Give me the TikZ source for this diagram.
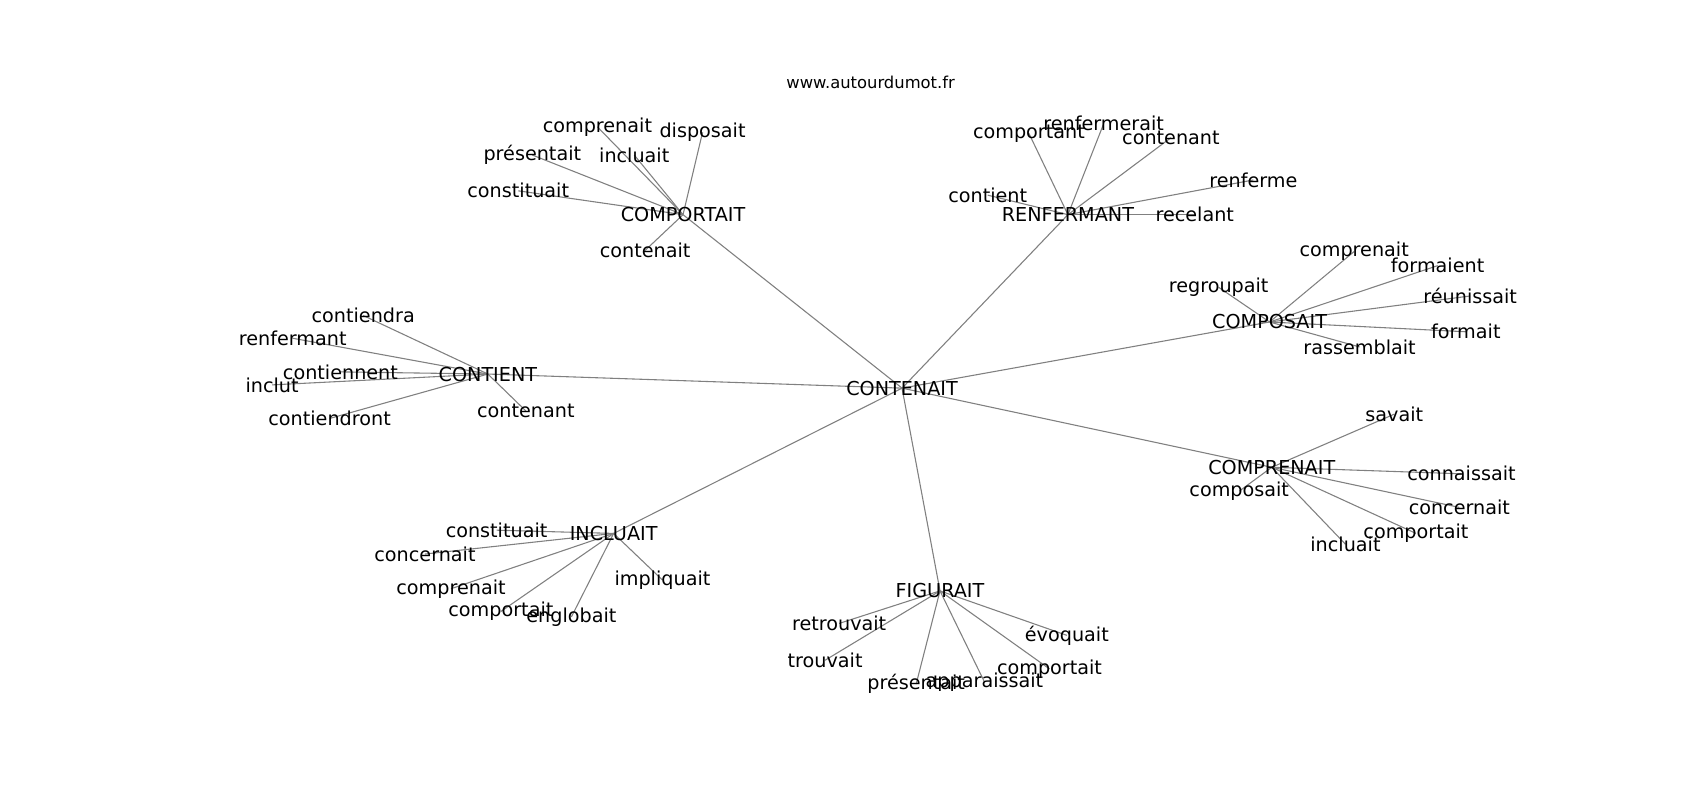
\documentclass[tikz,border=0pt]{standalone}
\usepackage{fontspec}
\setmainfont{DejaVu Sans}
\usetikzlibrary{backgrounds}
\tikzset{
  word/.style={inner sep=0pt, font=\fontsize{8.85}{10}\selectfont},
  edge/.style={draw=black!50, line width=0.5pt},
}
\begin{document}
\begin{tikzpicture}[x=0.5pt,y=-0.5pt]
      \useasboundingbox (0,0) rectangle (1568,738);
%
      \node[inner sep=0pt, font=\fontsize{7.55}{9}\selectfont] (site) at (803,76) {www.autourdumot.fr};
%
      \node[word] (contenait) at (832,358) {CONTENAIT};
      \node[word] (comportait) at (630,198) {COMPORTAIT};
      \node[word] (renfermant) at (985,198) {RENFERMANT};
      \node[word] (composait) at (1171,297) {COMPOSAIT};
      \node[word] (contient) at (450,345) {CONTIENT};
      \node[word] (comprenait) at (1173,431) {COMPRENAIT};
      \node[word] (incluait) at (566,492) {INCLUAIT};
      \node[word] (figurait) at (867,545) {FIGURAIT};
%
      \node[word] (P1) at (551,117) {comprenait};%%
      \node[word] (P2) at (648,122) {disposait};%%
      \node[word] (P3) at (491,143) {présentait};%%
      \node[word] (P4) at (585,143) {incluait};%%
      \node[word] (P5) at (478,176) {constituait};%%
      \node[word] (P6) at (595,231) {contenait};%%
%
      \node[word] (R1) at (949,123) {comportant};%%
      \node[word] (R2) at (1018,114) {renfermerait};%%
      \node[word] (R3) at (1080,127) {contenant};%%
      \node[word] (R4) at (1156,166) {renferme};%%
      \node[word] (R5) at (911,180) {contient};%%
      \node[word] (R6) at (1102,198) {recelant};%%
%
      \node[word] (S1) at (1249,232) {comprenait};%%
      \node[word] (S2) at (1326,245) {formaient};%%
      \node[word] (S3) at (1124,265) {regroupait};%%
      \node[word] (S4) at (1356,273) {réunissait};%%
      \node[word] (S5) at (1352,306) {formait};%%
      \node[word] (S6) at (1254,320) {rassemblait};%%
%
      \node[word] (T1) at (335,291) {contiendra};%%
      \node[word] (T2) at (270,312) {renfermant};%%
      \node[word] (T3) at (314,343) {contiennent};%%
      \node[word] (T4) at (251,355) {inclut};%%
      \node[word] (T5) at (304,386) {contiendront};%%
      \node[word] (T6) at (485,379) {contenant};%%
%
      \node[word] (Q1) at (1286,382) {savait};%%
      \node[word] (Q2) at (1348,437) {connaissait};%%
      \node[word] (Q3) at (1143,453) {composait};%%
      \node[word] (Q4) at (1346,468) {concernait};%%
      \node[word] (Q5) at (1306,492) {comportait};%%
      \node[word] (Q6) at (1241,502) {incluait};%%
%
      \node[word] (I1) at (458,489) {constituait};%%
      \node[word] (I2) at (392,511) {concernait};%%
      \node[word] (I3) at (416,543) {comprenait};%%
      \node[word] (I4) at (462,564) {comportait};%%
      \node[word] (I5) at (527,569) {englobait};%%
      \node[word] (I6) at (611,535) {impliquait};%%
%
      \node[word] (F1) at (774,575) {retrouvait};%%
      \node[word] (F2) at (761,609) {trouvait};%%
      \node[word] (F3) at (845,631) {présentait};%%
      \node[word] (F4) at (908,629) {apparaissait};%%
      \node[word] (F5) at (968,617) {comportait};%%
      \node[word] (F6) at (984,586) {évoquait};%%
%
      \begin{scope}[on background layer]
      \foreach \hub in {comportait,renfermant,composait,contient,comprenait,incluait,figurait}
        \draw[edge] (contenait.center) -- (\hub.center);
      \foreach \i in {1,...,6} {
        \draw[edge] (comportait.center) -- (P\i.center);
        \draw[edge] (renfermant.center) -- (R\i.center);
        \draw[edge] (composait.center) -- (S\i.center);
        \draw[edge] (contient.center) -- (T\i.center);
        \draw[edge] (comprenait.center) -- (Q\i.center);
        \draw[edge] (incluait.center) -- (I\i.center);
        \draw[edge] (figurait.center) -- (F\i.center);
      }
      \end{scope}
   \end{tikzpicture}
\end{document}
